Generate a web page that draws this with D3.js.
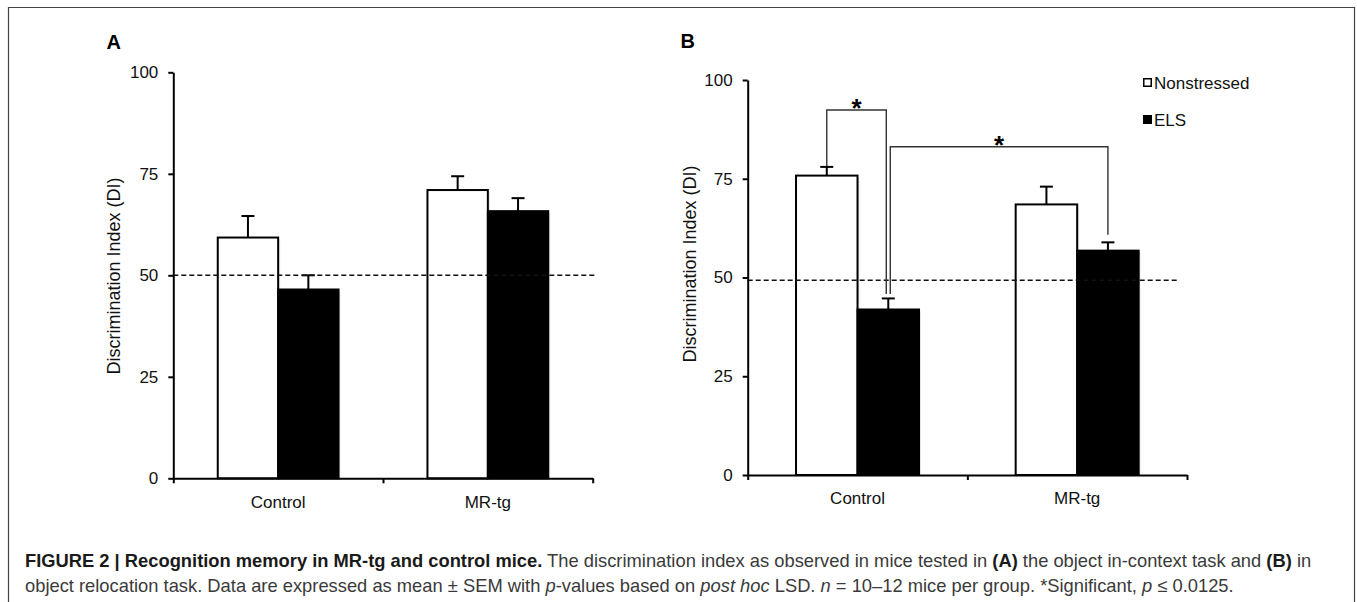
<!DOCTYPE html>
<html>
<head>
<meta charset="utf-8">
<script src="https://cdn.jsdelivr.net/npm/d3@7"></script>
<style>
  body { margin: 0; background: #fff; }
  svg { display: block; font-family: "Liberation Sans", Arial, Helvetica, sans-serif; }
</style>
</head>
<body>
<div id="chart"></div>
<script>
// data
const categories = ['Control', 'MR-tg'];
const series = ['Nonstressed', 'ELS'];
const yTicks = [0, 25, 50, 75, 100];

// panel A: object in-context task, [Nonstressed, ELS] per category
const meanA = [[59.3, 46.5], [71.0, 65.8]];
const semA = [[5.3, 3.5], [3.4, 3.2]];
const chanceA = 50;

// panel B: object relocation task
const meanB = [[75.8, 41.9], [68.5, 56.8]];
const semB = [[2.2, 2.8], [4.5, 2.1]];
const chanceB = 49.3;

// significance brackets in B: [category, series] at each end, bracket height and end heights
const bracketsB = [
  { from: [0, 0], to: [0, 1], top: 92.4, endFrom: 78.2, endTo: 45.8, label: '*' },
  { from: [0, 1], to: [1, 1], top: 83.1, endFrom: 45.8, endTo: 60.8, label: '*' },
];

const captionLine1 = [
  { t: 'FIGURE 2 | Recognition memory in MR-tg and control mice.', w: 'bold' },
  { t: ' The discrimination index as observed in mice tested in ' },
  { t: '(A)', w: 'bold' },
  { t: ' the object in-context task and ' },
  { t: '(B)', w: 'bold' },
  { t: ' in' },
];
const captionLine2 = [
  { t: 'object relocation task. Data are expressed as mean \u00b1 SEM with ' },
  { t: 'p', s: 'italic' },
  { t: '-values based on ' },
  { t: 'post hoc', s: 'italic' },
  { t: ' LSD. ' },
  { t: 'n', s: 'italic' },
  { t: ' = 10\u201312 mice per group. *Significant, ' },
  { t: 'p', s: 'italic' },
  { t: ' \u2264 0.0125.' },
];

const width = 1357;
const height = 602;

const svg = d3.select('#chart').append('svg')
  .attr('width', width)
  .attr('height', height);

// frame around the figure
svg.append('path')
  .attr('d', `M8.5,${height} V7.5 H1354.5 V${height}`)
  .attr('fill', 'none')
  .attr('stroke', '#444')
  .attr('stroke-width', 1.2);

function drawPanel(opts) {
  const { letter, letterPos, xRange, yRange, means, sems, chance, chanceEnd, labelPos, labelPad } = opts;

  const g = svg.append('g');

  const x0 = d3.scaleBand().domain(categories).range(xRange).padding(0);
  const bw = x0.bandwidth();
  const x1 = d3.scaleBand().domain(series).range([bw * opts.inner[0], bw * opts.inner[1]]).padding(0);
  const y = d3.scaleLinear().domain([0, 100]).range(yRange);

  // bars
  const rows = [];
  categories.forEach((c, i) => series.forEach((s, j) => {
    rows.push({ c, s, i, j, v: means[i][j], e: sems[i][j] });
  }));

  // faint excel-like shadow
  g.append('g').selectAll('rect.shadow')
    .data(rows)
    .join('rect')
    .attr('x', (d) => x0(d.c) + x1(d.s) + 2)
    .attr('y', (d) => y(d.v) + 2)
    .attr('width', x1.bandwidth())
    .attr('height', (d) => y(0) - y(d.v) - 2)
    .attr('fill', '#000')
    .attr('opacity', 0.08);

  g.append('g').selectAll('rect.bar')
    .data(rows)
    .join('rect')
    .attr('x', (d) => x0(d.c) + x1(d.s))
    .attr('y', (d) => y(d.v))
    .attr('width', x1.bandwidth())
    .attr('height', (d) => y(0) - y(d.v))
    .attr('fill', (d) => d.j === 0 ? '#fff' : '#000')
    .attr('stroke', '#000')
    .attr('stroke-width', 2);

  // error bars (upper only)
  const eb = g.append('g').attr('stroke', '#000').attr('stroke-width', 2);
  const cx = (d) => x0(d.c) + x1(d.s) + x1.bandwidth() / 2;
  eb.selectAll('line.v')
    .data(rows)
    .join('line')
    .attr('x1', cx).attr('x2', cx)
    .attr('y1', (d) => y(d.v)).attr('y2', (d) => y(d.v + d.e));
  eb.selectAll('line.cap')
    .data(rows)
    .join('line')
    .attr('class', 'cap')
    .attr('x1', (d) => cx(d) - 6.5).attr('x2', (d) => cx(d) + 6.5)
    .attr('y1', (d) => y(d.v + d.e)).attr('y2', (d) => y(d.v + d.e));

  // chance line
  g.append('line')
    .attr('x1', xRange[0]).attr('x2', xRange[1] + chanceEnd)
    .attr('y1', y(chance)).attr('y2', y(chance))
    .attr('stroke', '#111')
    .attr('stroke-width', 1.6)
    .attr('stroke-dasharray', '5,3');

  // y axis
  const yAxis = g.append('g')
    .attr('transform', `translate(${xRange[0]},0)`)
    .call(d3.axisLeft(y).tickValues(yTicks).tickSize(5).tickSizeOuter(0).tickPadding(10));
  yAxis.selectAll('path, line').attr('stroke', '#000').attr('stroke-width', 2);
  yAxis.selectAll('text').attr('font-size', 17).attr('fill', '#111')
    .attr('font-family', '"Liberation Sans", Arial, sans-serif');

  // x axis: boundary ticks + category labels
  const xb = d3.scaleLinear().domain([0, categories.length]).range(xRange);
  const xAxis = g.append('g')
    .attr('transform', `translate(0,${y(0)})`)
    .call(d3.axisBottom(xb).tickValues(d3.range(categories.length + 1)).tickFormat('').tickSize(5).tickSizeOuter(0));
  xAxis.selectAll('path, line').attr('stroke', '#000').attr('stroke-width', 2);

  const xLab = g.append('g')
    .attr('transform', `translate(0,${y(0)})`)
    .call(d3.axisBottom(x0).tickSize(0).tickPadding(labelPad));
  xLab.select('.domain').remove();
  xLab.selectAll('text').attr('font-size', 17).attr('fill', '#111')
    .attr('font-family', '"Liberation Sans", Arial, sans-serif');

  // y label
  g.append('text')
    .attr('transform', `translate(${labelPos[0]},${labelPos[1]}) rotate(-90)`)
    .attr('text-anchor', 'middle')
    .attr('dy', '0.35em')
    .attr('font-size', 18)
    .attr('fill', '#111')
    .text('Discrimination Index (DI)');

  // panel letter
  g.append('text')
    .attr('x', letterPos[0]).attr('y', letterPos[1])
    .attr('font-size', 20)
    .attr('font-weight', 'bold')
    .attr('fill', '#000')
    .text(letter);

  return { g, x0, x1, y };
}

const A = drawPanel({
  letter: 'A', letterPos: [106.5, 48.5],
  xRange: [173.3, 592.7], yRange: [478.3, 72.3],
  inner: [0.212, 0.788],
  means: meanA, sems: semA, chance: chanceA, chanceEnd: 2.5,
  labelPos: [114, 276], labelPad: 18,
});

const B = drawPanel({
  letter: 'B', letterPos: [680.5, 47.5],
  xRange: [747.7, 1187], yRange: [475, 80],
  inner: [0.22, 0.78],
  means: meanB, sems: semB, chance: chanceB, chanceEnd: -8,
  labelPos: [689.5, 264], labelPad: 17,
});

// significance brackets
const barX = (p, [i, j]) => p.x0(categories[i]) + p.x1(series[j]) + p.x1.bandwidth() / 2;
const br = B.g.append('g');
bracketsB.forEach((b, k) => {
  // the two brackets meet on the same bar: nudge them apart
  const xa = barX(B, b.from) + (k === 1 ? 2 : 0);
  const xb = barX(B, b.to) + (k === 0 ? -2 : 0);
  br.append('path')
    .attr('d', `M${xa},${B.y(b.endFrom)} V${B.y(b.top)} H${xb} V${B.y(b.endTo)}`)
    .attr('fill', 'none')
    .attr('stroke', '#333')
    .attr('stroke-width', 1.4);
  br.append('text')
    .attr('x', (xa + xb) / 2)
    .attr('y', B.y(b.top) + 7)
    .attr('text-anchor', 'middle')
    .attr('font-size', 26)
    .attr('font-weight', 'bold')
    .attr('fill', '#000')
    .text(b.label);
});

// legend
const legend = svg.append('g').attr('transform', 'translate(1143,78)');
series.forEach((s, j) => {
  const row = legend.append('g').attr('transform', `translate(0,${j * 37})`);
  row.append('rect')
    .attr('x', 0.75).attr('y', 0.75)
    .attr('width', 7.5).attr('height', 7.5)
    .attr('fill', j === 0 ? '#fff' : '#000')
    .attr('stroke', '#000')
    .attr('stroke-width', 1.5);
  row.append('text')
    .attr('x', 11).attr('y', 11.3)
    .attr('font-size', 17)
    .attr('fill', '#111')
    .text(s);
});

// caption
function captionLine(parts, yPos, size) {
  const t = svg.append('text')
    .attr('x', 25).attr('y', yPos)
    .attr('font-size', size)
    .attr('fill', '#3a3a3a');
  parts.forEach((p) => {
    t.append('tspan')
      .attr('font-weight', p.w || null)
      .attr('font-style', p.s || null)
      .attr('fill', p.w ? '#1a1a1a' : null)
      .text(p.t);
  });
  return t;
}

const c1 = captionLine(captionLine1, 567, 16);
const fit = 16 * 1287 / c1.node().getComputedTextLength();
c1.attr('font-size', fit);
captionLine(captionLine2, 592, fit);
</script>
</body>
</html>
